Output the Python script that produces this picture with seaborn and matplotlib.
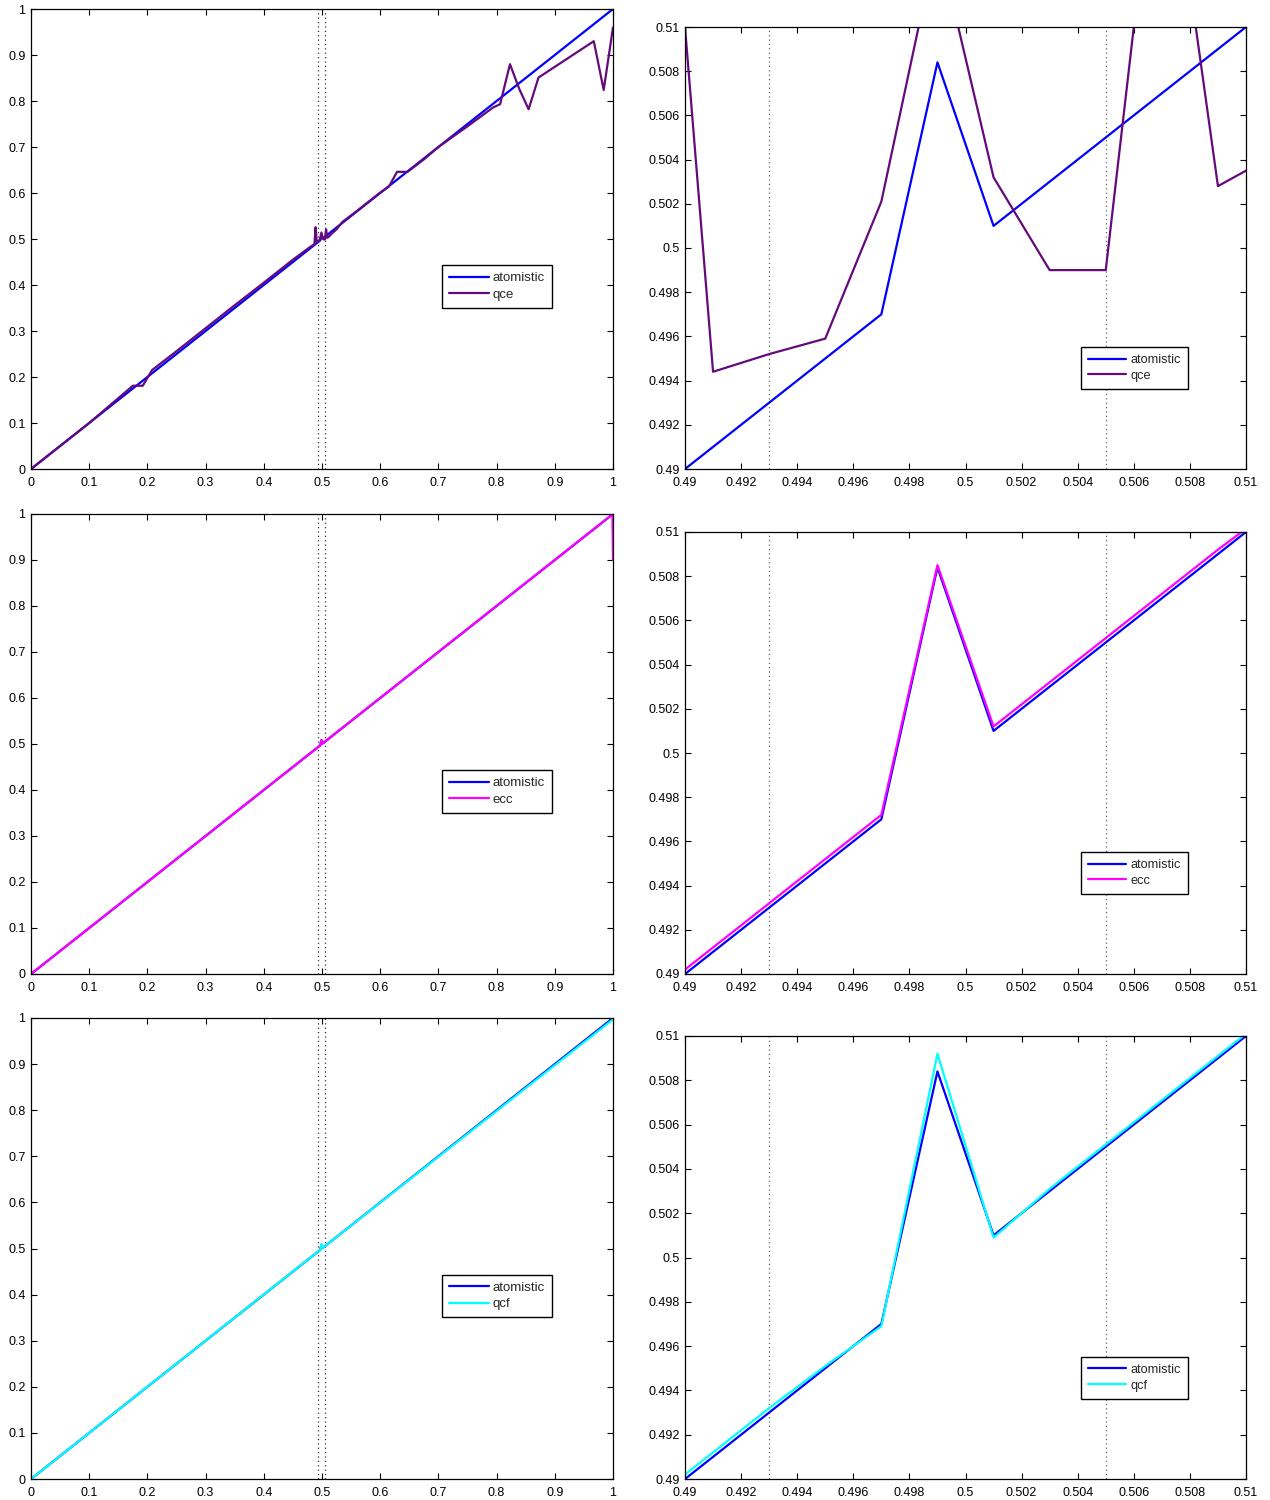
import matplotlib
matplotlib.use("Agg")
import matplotlib.pyplot as plt
import seaborn as sns

# ---- data -------------------------------------------------------------
atom_x = [0.0, 0.491, 0.493, 0.495, 0.497, 0.499, 0.501, 0.503, 0.505, 0.507, 0.509, 0.511, 1.0]
atom_y = [0.0, 0.491, 0.493, 0.495, 0.497, 0.5084, 0.501, 0.503, 0.505, 0.507, 0.509, 0.511, 1.0]

qce_x = [0.0, 0.1, 0.175, 0.192, 0.208, 0.25, 0.3, 0.35, 0.4, 0.45, 0.48, 0.485, 0.487,
         0.489, 0.491, 0.493, 0.495, 0.497, 0.499, 0.501, 0.503, 0.505, 0.507, 0.509, 0.511,
         0.517, 0.525, 0.535, 0.56, 0.6, 0.615, 0.629, 0.647, 0.675, 0.7, 0.75, 0.794,
         0.806, 0.823, 0.839, 0.855, 0.872, 0.967, 0.984, 1.0]
qce_y = [0.0, 0.1, 0.181, 0.181, 0.215, 0.256, 0.306, 0.356, 0.405, 0.455, 0.483, 0.487, 0.489,
         0.5256, 0.4944, 0.4952, 0.4959, 0.5021, 0.5140, 0.5032, 0.4990, 0.4990, 0.5210, 0.5028, 0.5042,
         0.512, 0.521, 0.537, 0.561, 0.601, 0.614, 0.646, 0.646, 0.673, 0.700, 0.745, 0.786,
         0.793, 0.880, 0.826, 0.782, 0.851, 0.930, 0.824, 0.960]

ecc_x = [0.0, 0.491, 0.493, 0.495, 0.497, 0.499, 0.501, 0.503, 0.505, 0.507, 0.509, 0.511, 0.999, 1.0]
ecc_y = [0.0, 0.4912, 0.4932, 0.4952, 0.4972, 0.5085, 0.5012, 0.5032, 0.5052, 0.5072, 0.5092, 0.5111, 0.9992, 0.9]

qcf_x = [0.0, 0.491, 0.493, 0.495, 0.497, 0.499, 0.501, 0.503, 0.505, 0.507, 0.509, 0.511, 1.0]
qcf_y = [0.0, 0.4912, 0.4932, 0.4951, 0.4969, 0.5092, 0.5009, 0.5031, 0.5051, 0.5071, 0.5091, 0.5111, 0.997]

interface_x = [0.493, 0.505]

full_ticks = [0.0, 0.1, 0.2, 0.3, 0.4, 0.5, 0.6, 0.7, 0.8, 0.9, 1.0]
full_labels = ["0", "0.1", "0.2", "0.3", "0.4", "0.5", "0.6", "0.7", "0.8", "0.9", "1"]
zoom_ticks = [0.49, 0.492, 0.494, 0.496, 0.498, 0.5, 0.502, 0.504, 0.506, 0.508, 0.51]
zoom_labels = ["0.49", "0.492", "0.494", "0.496", "0.498", "0.5", "0.502", "0.504",
               "0.506", "0.508", "0.51"]

methods = [
    ("qce", qce_x, qce_y, "#650a7a"),
    ("ecc", ecc_x, ecc_y, "#ff00ff"),
    ("qcf", qcf_x, qcf_y, "#00ffff"),
]

# ---- style ------------------------------------------------------------
sns.set_theme(style="ticks")
plt.rcParams["font.family"] = ["Liberation Sans", "DejaVu Sans"]
plt.rcParams["axes.linewidth"] = 0.8

W, H = 1270, 1500
fig = plt.figure(figsize=(W / 100, H / 100), dpi=100, facecolor="white")

left_box = (31, 613)
right_box = (685, 1246)
left_rows = [(9, 469), (514, 974), (1018, 1479)]
right_rows = [(27, 469), (532, 974), (1036, 1479)]


def make_axes(xbox, ybox):
    x0, x1 = xbox
    y0, y1 = ybox
    return fig.add_axes([x0 / W, 1 - y1 / H, (x1 - x0) / W, (y1 - y0) / H])


def style_axes(ax, ticks, labels, lim, fs, leg_fs, legend_anchor):
    ax.set_xlim(lim)
    ax.set_ylim(lim)
    ax.set_xticks(ticks)
    ax.set_xticklabels(labels)
    ax.set_yticks(ticks)
    ax.set_yticklabels(labels)
    ax.tick_params(direction="in", top=True, right=True, length=4, width=0.8,
                   labelsize=fs, colors="black")
    ax.tick_params(axis="x", pad=5.5)
    ax.tick_params(axis="y", pad=4)
    for s in ax.spines.values():
        s.set_visible(True)
        s.set_color("black")
        s.set_linewidth(0.9)
    ax.set_xlabel("")
    ax.set_ylabel("")
    ax.set_facecolor("white")
    leg = ax.legend(loc="upper left", bbox_to_anchor=legend_anchor, borderaxespad=0,
                    fontsize=leg_fs, handlelength=3.0, handletextpad=0.3, borderpad=0.55,
                    labelspacing=0.3, fancybox=False, framealpha=1, edgecolor="black")
    leg.get_frame().set_linewidth(1.0)
    for line in leg.get_lines():
        line.set_linewidth(1.6)


for row, (name, mx, my, col) in enumerate(methods):
    # full range
    ax = make_axes(left_box, left_rows[row])
    for xv in interface_x:
        ax.axvline(xv, color="0.2", ls=(0, (1, 2.5)), lw=0.9, zorder=1)
    sns.lineplot(x=atom_x, y=atom_y, ax=ax, color="#0000ff", lw=1.6, label="atomistic",
                 estimator=None, sort=False)
    sns.lineplot(x=mx, y=my, ax=ax, color=col, lw=1.6, label=name,
                 estimator=None, sort=False)
    style_axes(ax, full_ticks, full_labels, (0, 1), 9, 9.5, (0.7062, 0.4435))

    # zoom around the interface
    ax = make_axes(right_box, right_rows[row])
    for xv in interface_x:
        ax.axvline(xv, color="0.4", ls=(0, (1, 2.5)), lw=0.9, zorder=1)
    sns.lineplot(x=atom_x, y=atom_y, ax=ax, color="#0000ff", lw=1.6, label="atomistic",
                 estimator=None, sort=False)
    sns.lineplot(x=mx, y=my, ax=ax, color=col, lw=1.6, label=name,
                 estimator=None, sort=False)
    style_axes(ax, zoom_ticks, zoom_labels, (0.49, 0.51), 9, 9.2, (0.7059, 0.276))

fig.savefig("out.png", dpi=100, facecolor="white")
